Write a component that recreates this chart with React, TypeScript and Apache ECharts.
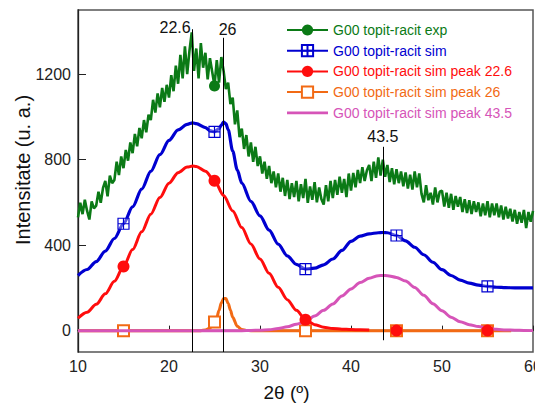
import { useEffect, useRef } from "react";
import * as echarts from "echarts";

// Measured diffractogram, sampled every 0.25° from 10° to 60°
const expStart = 10;
const expStep = 0.25;
const expIntensity = [
  530, 598, 545, 612, 560, 520, 605, 572,
  585, 650, 598, 668, 700, 628, 725, 690,
  705, 790, 728, 815, 760, 845, 795, 880,
  830, 920, 862, 948, 900, 985, 928, 1010,
  985, 1080, 1020, 1110, 1045, 1135, 1070, 1150,
  1090, 1195, 1120, 1240, 1155, 1290, 1180, 1330,
  1200, 1310, 1395, 1215, 1320, 1180, 1345, 1230,
  1300, 1175, 1275, 1210, 1145, 1265, 1160, 1280,
  1215, 1130, 1160, 1060, 1090, 965, 1030, 905,
  945, 850, 915, 815, 880, 790, 860, 770,
  815, 735, 790, 710, 770, 690, 745, 670,
  735, 650, 715, 630, 705, 615, 690, 625,
  700, 605, 685, 620, 710, 598, 675, 612,
  695, 600, 670, 615, 590, 680, 605, 700,
  620, 705, 635, 720, 645, 710, 625, 735,
  655, 738, 670, 752, 690, 765, 700, 750,
  775, 700, 790, 715, 810, 725, 800, 720,
  775, 695, 760, 685, 755, 690, 745, 675,
  740, 665, 730, 660, 745, 670, 735, 640,
  600, 680, 610, 645, 590, 670, 600, 650,
  655, 580, 645, 575, 640, 565, 630, 580,
  625, 555, 615, 550, 610, 545, 605, 555,
  600, 535, 595, 540, 605, 530, 595, 540,
  595, 530, 585, 520, 580, 525, 570, 510,
  565, 500, 555, 505, 565, 480, 555, 510,
  560,
];
const expMarkerAngles = [25];

// Simulated total profile [2θ, intensity]
const simCurve: [number, number][] = [
  [10, 258], [11, 286], [12, 323], [13, 372], [14, 431], [15, 500], [16, 579],
  [17, 662], [18, 745], [19, 823], [20, 890], [21, 939], [22, 965], [22.6, 972],
  [23, 968], [24, 950], [24.5, 936], [25, 930], [25.5, 945], [25.75, 962],
  [26, 975], [26.25, 968], [26.5, 940], [27, 840], [27.5, 752], [28, 690],
  [29, 605], [30, 537], [31, 470], [32, 405], [33, 350], [34, 310], [35, 288],
  [36, 292], [37, 308], [38, 335], [39, 375], [40, 418], [41, 442], [42, 453],
  [43, 458], [43.5, 459], [44, 458], [45, 445], [46, 420], [47, 390], [48, 355],
  [49, 320], [50, 285], [51, 258], [52, 236], [53, 222], [54, 213], [55, 207],
  [56, 203], [57, 201], [58, 200], [59, 200], [60, 200],
];

// Simulated peak at 22.6°
const peak226Curve: [number, number][] = [
  [10, 58], [11, 86], [12, 123], [13, 172], [14, 231], [15, 300], [16, 379],
  [17, 462], [18, 545], [19, 623], [20, 690], [21, 739], [22, 765], [22.6, 770],
  [23, 768], [24, 746], [25, 701], [26, 632], [27, 560], [28, 482], [29, 405],
  [30, 335], [31, 268], [32, 203], [33, 145], [34, 95], [35, 51], [36, 28],
  [37, 16], [38, 10], [39, 7], [40, 5], [41, 4], [42, 3],
];
const peak226Tail: [number, number][] = [[45, 0], [55, 0]];

// Simulated peak at 26°
const peak26Curve: [number, number][] = [
  [10, 0], [15, 0], [20, 0], [23.5, 0], [24, 3], [24.5, 12], [25, 40],
  [25.25, 62], [25.5, 95], [25.75, 130], [26, 150], [26.25, 150], [26.5, 128],
  [26.75, 96], [27, 62], [27.5, 20], [28, 5], [28.5, 1], [29, 0], [35, 0],
  [45, 0], [55, 0], [57.6, 0],
];

// Simulated peak at 43.5°
const peak435Curve: [number, number][] = [
  [10, 0], [20, 0], [28, 0], [29, 1], [30, 2], [31, 4], [32, 10], [33, 18],
  [34, 30], [35, 42], [36, 68], [37, 95], [38, 125], [39, 162], [40, 195],
  [41, 225], [42, 245], [43, 257], [43.5, 258], [44, 257], [45, 249], [46, 232],
  [47, 202], [48, 165], [49, 126], [50, 93], [51, 63], [52, 42], [53, 28],
  [54, 19], [55, 12], [56, 6], [57, 3], [58, 2], [59, 1], [60, 0],
];

const simMarkerAngles = [15, 25, 35, 45, 55];

// Peak positions marked with vertical guides
const peakAngles = [22.6, 26, 43.5];
const peakLabels = ["22.6", "26", "43.5"];
const peakGuideTop = [1410, 1370, 860];
const peakGuideBottom = [-100, -100, -45];

const xTicks = [10, 20, 30, 40, 50, 60];
const yTicks = [0, 400, 800, 1200];

const seriesNames = [
  "G00 topit-racit exp",
  "G00 topit-racit sim",
  "G00 topit-racit sim peak 22.6",
  "G00 topit-racit sim peak 26",
  "G00 topit-racit sim peak 43.5",
];

const GREEN = "#0b7a16";
const BLUE = "#0000d0";
const RED = "#ff0d0d";
const ORANGE = "#f26a14";
const PINK = "#d654b8";
const FONT = "'Liberation Sans', Arial, Helvetica, sans-serif";

const gridSymbol = "path://M0 0H10V10H0Z M5 0V10 M0 5H10";
// plain line icon: two hair-thin corner dots keep the full icon box
const lineOnlyIcon =
  "path://M0 0H0.01V0.01H0Z M0 5.6H41V8.4H0Z M40.99 13.99H41V14H40.99Z";

// guide label placement: [align, x offset, distance from the guide's top]
const guideLabelStyle: [string, number, number][] = [
  ["right", -2, -6],
  ["center", 4, 0],
  ["center", 0, 2],
];

function withMarkers(points: [number, number][], markers: number[]) {
  return points.map(([x, y]) =>
    markers.includes(x) ? { value: [x, y] } : { value: [x, y], symbol: "none" }
  );
}

export default function App() {
  const ref = useRef<HTMLDivElement>(null);

  useEffect(() => {
    if (!ref.current) return;
    const chart = echarts.init(ref.current, null, { renderer: "svg" });

    const expPoints: [number, number][] = expIntensity.map((y, i) => [
      expStart + i * expStep,
      y,
    ]);

    const redData: any[] = withMarkers(peak226Curve, simMarkerAngles);
    peak226Tail.forEach(([x, y]) => {
      redData.push({ value: [x - 0.5, null], symbol: "none" });
      redData.push({ value: [x, y] });
    });

    const markLineData = peakAngles.map((a, i) => [
      {
        coord: [a, peakGuideTop[i]],
        label: {
          formatter: peakLabels[i],
          align: guideLabelStyle[i][0],
          offset: [guideLabelStyle[i][1], 0],
          distance: guideLabelStyle[i][2],
        },
      },
      { coord: [a, peakGuideBottom[i]] },
    ]);

    chart.setOption({
      animation: false,
      grid: {
        left: 78,
        right: 2,
        top: 10,
        bottom: 54,
        show: true,
        borderColor: "#555",
        borderWidth: 1.5,
        outerBoundsMode: "none",
      },
      legend: {
        orient: "vertical",
        left: 286,
        top: 23,
        padding: 0,
        itemWidth: 41,
        itemHeight: 14,
        itemGap: 6.7,
        textStyle: { fontFamily: FONT, fontSize: 14, lineHeight: 14 },
        data: [
          { name: seriesNames[0], textStyle: { color: GREEN } },
          { name: seriesNames[1], textStyle: { color: BLUE } },
          { name: seriesNames[2], textStyle: { color: RED } },
          { name: seriesNames[3], textStyle: { color: ORANGE } },
          {
            name: seriesNames[4],
            icon: lineOnlyIcon,
            itemStyle: { color: PINK },
            textStyle: { color: PINK },
          },
        ],
      },
      xAxis: {
        type: "value",
        min: 10,
        max: 60,
        interval: 10,
        name: "2θ (º)",
        nameLocation: "middle",
        nameGap: 31,
        nameTextStyle: {
          fontFamily: FONT,
          fontSize: 19,
          color: "#111",
          padding: [0, 38, 0, 0],
        },
        axisLine: { lineStyle: { color: "#222", width: 1.3 } },
        axisTick: { inside: true, length: 5, lineStyle: { color: "#222" }, customValues: xTicks },
        axisLabel: {
          fontFamily: FONT,
          fontSize: 16,
          color: "#222",
          margin: 6,
          customValues: xTicks,
          formatter: (v: number) => String(v),
        },
        splitLine: { show: false },
      },
      yAxis: {
        type: "value",
        min: -100,
        max: 1500,
        name: "Intensitate (u. a.)",
        nameLocation: "middle",
        nameGap: 45,
        nameMoveOverlap: false,
        nameRotate: 90,
        nameTextStyle: {
          fontFamily: FONT,
          fontSize: 20,
          color: "#111",
          padding: [0, 0, 0, 22],
        },
        axisLine: { lineStyle: { color: "#222", width: 1.3 } },
        axisTick: { inside: true, length: 8, lineStyle: { color: "#222" }, customValues: yTicks },
        axisLabel: {
          fontFamily: FONT,
          fontSize: 16,
          color: "#222",
          margin: 7,
          customValues: yTicks,
          formatter: (v: number) => String(v),
        },
        splitLine: { show: false },
      },
      series: [
        {
          name: seriesNames[0],
          type: "line",
          z: 1,
          data: withMarkers(expPoints, expMarkerAngles),
          symbol: "circle",
          symbolSize: 11,
          showAllSymbol: true,
          color: GREEN,
          itemStyle: { color: GREEN },
          lineStyle: { color: GREEN, width: 2.6 },
        },
        {
          name: seriesNames[1],
          type: "line",
          z: 2,
          smooth: 0.3,
          smoothMonotone: "x",
          data: withMarkers(simCurve, simMarkerAngles),
          symbol: gridSymbol,
          symbolSize: 11,
          showAllSymbol: true,
          color: BLUE,
          itemStyle: { color: "rgba(255,255,255,0.35)", borderColor: BLUE, borderWidth: 1.2 },
          lineStyle: { color: BLUE, width: 3.2 },
        },
        {
          name: seriesNames[3],
          type: "line",
          z: 3,
          smooth: 0.3,
          smoothMonotone: "x",
          data: withMarkers(peak26Curve, simMarkerAngles),
          symbol: "emptyRect",
          symbolSize: 11,
          showAllSymbol: true,
          color: ORANGE,
          itemStyle: { color: ORANGE, borderColor: ORANGE, borderWidth: 1.2 },
          lineStyle: { color: ORANGE, width: 3 },
        },
        {
          name: seriesNames[4],
          type: "line",
          z: 4,
          smooth: 0.3,
          smoothMonotone: "x",
          data: peak435Curve,
          symbol: "none",
          color: PINK,
          lineStyle: { color: PINK, width: 3 },
        },
        {
          name: seriesNames[2],
          type: "line",
          z: 5,
          smooth: 0.3,
          smoothMonotone: "x",
          connectNulls: false,
          data: redData,
          symbol: "circle",
          symbolSize: 12,
          showAllSymbol: true,
          color: RED,
          itemStyle: { color: RED },
          lineStyle: { color: RED, width: 3 },
          markLine: {
            silent: true,
            symbol: "none",
            animation: false,
            lineStyle: { color: "#000", width: 1, type: "solid" },
            label: {
              position: "start",
              distance: 2,
              fontFamily: FONT,
              fontSize: 16,
              color: "#111",
            },
            emphasis: { disabled: true },
            data: markLineData,
          },
        },
      ],
    });

    return () => chart.dispose();
  }, []);

  return (
    <div
      ref={ref}
      style={{ position: "absolute", left: 0, top: 0, width: 535, height: 406 }}
    />
  );
}
